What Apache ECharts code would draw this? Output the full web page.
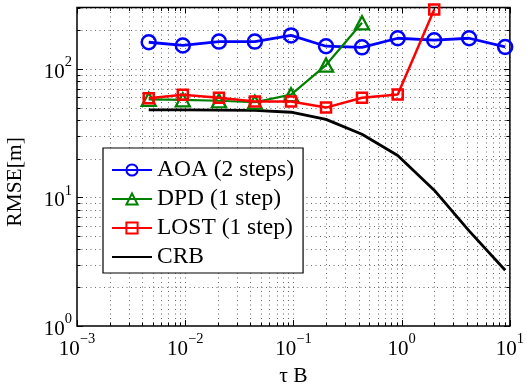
<!DOCTYPE html>
<html>
<head>
<meta charset="utf-8">
<script src="https://cdn.jsdelivr.net/npm/echarts@6/dist/echarts.min.js"></script>
<style>
html,body{margin:0;padding:0;background:#fff;}
#c{width:527px;height:392px;}
</style>
</head>
<body>
<div id="c"></div>
<script>
// ---- data ----
var tauB = [0.0046, 0.0095, 0.0205, 0.044, 0.095, 0.2, 0.43, 0.92, 2.0, 4.2, 9.05];
var aoa  = [161, 152, 163, 163, 182, 150, 147, 173, 167, 173, 148];
var dpd  = [58, 57.5, 56.5, 55, 63, 107, 228];
var lost = [59, 63, 59.7, 55.7, 55.7, 50, 59.7, 63.2, 290];
var crb  = [48, 48, 47.8, 47.5, 46, 40.5, 31, 21.2, 11.4, 5.5, 2.72];
var seriesNames = ['AOA (2 steps)', 'DPD (1 step)', 'LOST (1 step)', 'CRB'];
var xTickValues = [];
[-3, -2, -1, 0].forEach(function (e) { for (var k = 1; k <= 9; k++) xTickValues.push(k * Math.pow(10, e)); });
xTickValues.push(10);
var yTickValues = [];
[0, 1].forEach(function (e) { for (var k = 1; k <= 9; k++) yTickValues.push(k * Math.pow(10, e)); });
yTickValues.push(100, 200, 300);

function pairs(xs, ys) { return ys.map(function (y, i) { return [xs[i], y]; }); }

var FONT = 'Liberation Serif';

function powLabel(v) {
  var e = Math.round(Math.log10(v));
  if (Math.abs(Math.log10(v) - e) > 1e-6) return '';
  var s = String(e).replace('-', '\u2212');
  return '{b|10}{s|' + s + '}';
}
var richLbl = {
  b: { fontFamily: FONT, fontSize: 21, color: '#000', verticalAlign: 'bottom', lineHeight: 28 },
  s: { fontFamily: FONT, fontSize: 14.5, color: '#000', verticalAlign: 'top', lineHeight: 28 }
};

// grid lines + minor/major ticks built through axis scales
var gridData = [];
xTickValues.forEach(function (v) { gridData.push([v, 10, 0]); });
yTickValues.forEach(function (v) { gridData.push([0.01, v, 1]); });

function renderGrid(params, api) {
  var cs = params.coordSys;
  var kind = api.value(2);
  var p = api.coord([api.value(0), api.value(1)]);
  var val = kind === 0 ? api.value(0) : api.value(1);
  var isMajor = Math.abs(Math.log10(val) - Math.round(Math.log10(val))) < 1e-6;
  var tl = isMajor ? 6 : 3.5;
  var dash = { stroke: '#444', lineWidth: 0.8, lineDash: [1, 3.5] };
  var tick = { stroke: '#000', lineWidth: 1 };
  var children = [];
  if (kind === 0) {
    var x = Math.round(p[0]) + 0.5;
    children.push({ type: 'line', shape: { x1: x, y1: cs.y, x2: x, y2: cs.y + cs.height }, style: dash });
    children.push({ type: 'line', shape: { x1: x, y1: cs.y + cs.height, x2: x, y2: cs.y + cs.height - tl }, style: tick });
    children.push({ type: 'line', shape: { x1: x, y1: cs.y, x2: x, y2: cs.y + tl }, style: tick });
  } else {
    var y = Math.round(p[1]) + 0.5;
    children.push({ type: 'line', shape: { x1: cs.x, y1: y, x2: cs.x + cs.width, y2: y }, style: dash });
    children.push({ type: 'line', shape: { x1: cs.x, y1: y, x2: cs.x + tl, y2: y }, style: tick });
    children.push({ type: 'line', shape: { x1: cs.x + cs.width, y1: y, x2: cs.x + cs.width - tl, y2: y }, style: tick });
  }
  return { type: 'group', children: children };
}

var chart = echarts.init(document.getElementById('c'), null, { renderer: 'canvas' });
chart.setOption({
  animation: false,
  backgroundColor: '#fff',
  textStyle: { fontFamily: FONT },
  grid: { left: 77, right: 15.5, top: 7.5, bottom: 58, show: true, borderColor: '#000', borderWidth: 1.5, backgroundColor: 'transparent' },
  xAxis: {
    type: 'log', logBase: 10, min: 0.001, max: 10,
    name: '\u03c4 B', nameLocation: 'middle', nameGap: 34,
    nameTextStyle: { fontFamily: FONT, fontSize: 21.5, color: '#000' },
    axisLine: { show: false }, axisTick: { show: false }, splitLine: { show: false },
    axisLabel: { formatter: powLabel, rich: richLbl, margin: 6, showMaxLabel: true, showMinLabel: true }
  },
  yAxis: {
    type: 'log', logBase: 10, min: 1, max: 300,
    axisLine: { show: false }, axisTick: { show: false }, splitLine: { show: false },
    axisLabel: { formatter: powLabel, rich: richLbl, margin: 5 }
  },
  graphic: [{
    type: 'text', x: 15, y: 182, rotation: Math.PI / 2,
    style: { text: 'RMSE[m]', fontFamily: FONT, fontSize: 21.5, fill: '#000', align: 'center', verticalAlign: 'middle' }
  }],
  legend: {
    data: [seriesNames[0], seriesNames[1], seriesNames[2],
      { name: seriesNames[3], itemStyle: { color: 'rgba(0,0,0,0)', borderColor: 'rgba(0,0,0,0)', borderWidth: 0 } }],
    orient: 'vertical', left: 103, top: 148,
    backgroundColor: '#fff', borderColor: '#000', borderWidth: 1.2,
    padding: [10, 9, 4, 8], itemGap: 5, itemWidth: 40, itemHeight: 14,
    textStyle: { fontFamily: FONT, fontSize: 23.5, color: '#000', lineHeight: 24 }
  },
  series: [
    { type: 'custom', renderItem: renderGrid, data: gridData, dimensions: ['x', 'y', 'k'], encode: { x: 0, y: 1 }, z: 1, silent: true, clip: false },
    { name: seriesNames[0], type: 'line', data: pairs(tauB, aoa), color: '#0000ff', z: 3,
      symbol: 'circle', symbolSize: 14, lineStyle: { color: '#0000ff', width: 2.8 },
      itemStyle: { color: 'rgba(255,255,255,0)', borderColor: '#0000ff', borderWidth: 2.5 } },
    { name: seriesNames[1], type: 'line', data: pairs(tauB, dpd), color: '#008000', z: 3,
      symbol: 'triangle', symbolSize: [14, 13], lineStyle: { color: '#008000', width: 2.2 },
      itemStyle: { color: 'rgba(255,255,255,0)', borderColor: '#008000', borderWidth: 2.3 } },
    { name: seriesNames[2], type: 'line', data: pairs(tauB, lost), color: '#ff0000', z: 4,
      symbol: 'rect', symbolSize: 10, lineStyle: { color: '#ff0000', width: 2.5 },
      itemStyle: { color: 'rgba(255,255,255,0)', borderColor: '#ff0000', borderWidth: 2.5 } },
    { name: seriesNames[3], type: 'line', data: pairs(tauB, crb), color: '#000', z: 2,
      symbol: 'none', lineStyle: { color: '#000', width: 2.8 } }
  ]
});
</script>
</body>
</html>
